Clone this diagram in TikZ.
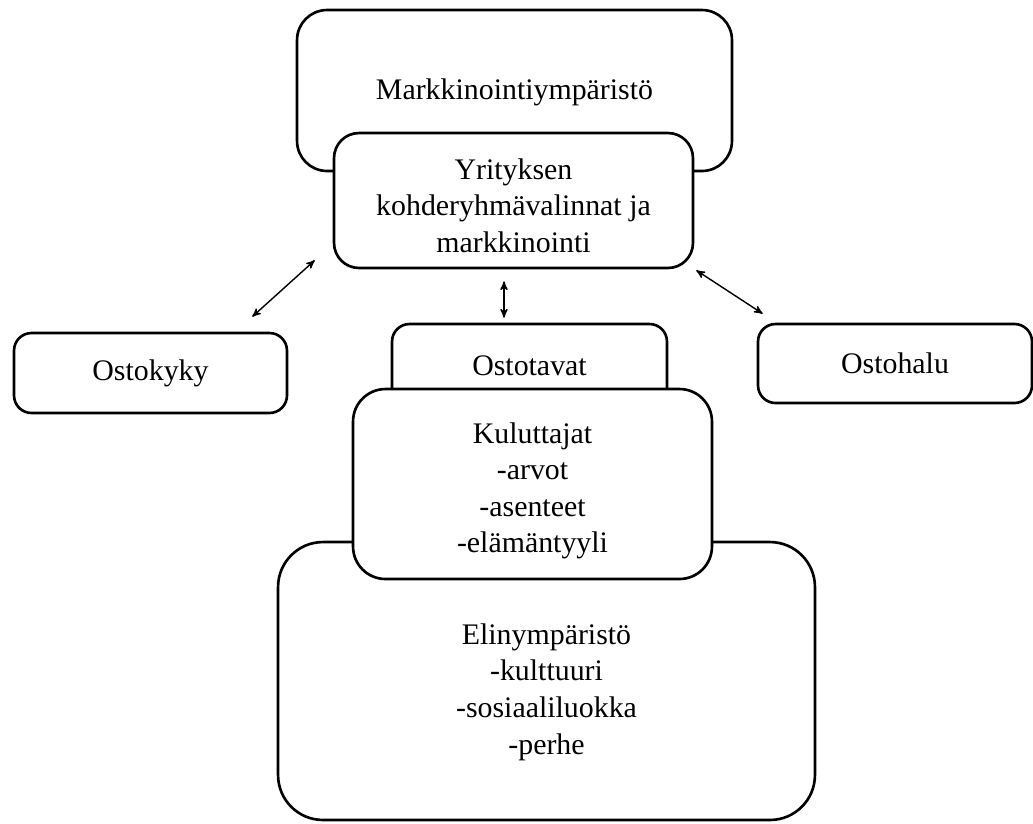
\documentclass[tikz,border=0pt]{standalone}
\usepackage{fontspec}
\setmainfont{Liberation Serif}
\usepackage{tikz}
\usetikzlibrary{arrows}
\tikzset{
	x=0.02cm, y=-0.02cm, % one unit is one pixel of the layout, y downwards
	txt/.style={align=center, font=\fontsize{17}{20.8}\selectfont}, % text of the boxes
	box/.style={draw, fill=white, line width=1.5pt, rounded corners=0.35cm, inner sep=0pt, txt}, % every box of the diagram
	link/.style={<->, >=stealth', line width=0.8pt}, % the thin double arrows
}

\begin{document}
\begin{tikzpicture}
			\useasboundingbox (0,0) rectangle (1033,823);
			% top
			\node (markk) at (514.5,90.5) [box, rounded corners=0.6cm, minimum width=8.7cm, minimum height=3.22cm, label={[txt, yshift=-0.04cm]center:Markkinointiympäristö}] {};
			\node (yrit) at (513.5,200.5) [box, rounded corners=0.5cm, minimum width=7.18cm, minimum height=2.7cm, label={[txt, yshift=-0.1cm]center:Yrityksen\\kohderyhmävalinnat ja\\markkinointi}] {};
			% middle row
			\node (ostokyky) at (150.5,373) [box, minimum width=5.46cm, minimum height=1.6cm] {Ostokyky};
			\node (ostotavat) at (529.5,366) [box, minimum width=5.5cm, minimum height=1.68cm] {Ostotavat};
			\node (ostohalu) at (895,363.5) [box, minimum width=5.48cm, minimum height=1.58cm] {Ostohalu};
			% bottom
			\node (elin) at (546.5,681) [box, rounded corners=0.9cm, minimum width=10.74cm, minimum height=5.56cm, label={[txt, yshift=-0.22cm]center:Elinympäristö\\-kulttuuri\\-sosiaaliluokka\\-perhe}] {};
			\node (kulu) at (532.5,484) [box, rounded corners=0.65cm, minimum width=7.18cm, minimum height=3.8cm, label={[txt, yshift=-0.14cm]center:Kuluttajat\\-arvot\\-asenteet\\-elämäntyyli}] {};
			% arrows
			\draw[link] ([shift={(-36,-15)}]ostokyky.north east) -- ([shift={(-18,-9)}]yrit.south west);
			\draw[link] ([shift={(-9.5,12)}]yrit.south) -- ([shift={(-25.5,-5)}]ostotavat.north);
			\draw[link] ([shift={(2,1)}]yrit.south east) -- ([shift={(6,-9)}]ostohalu.north west);
		\end{tikzpicture}
\end{document}
